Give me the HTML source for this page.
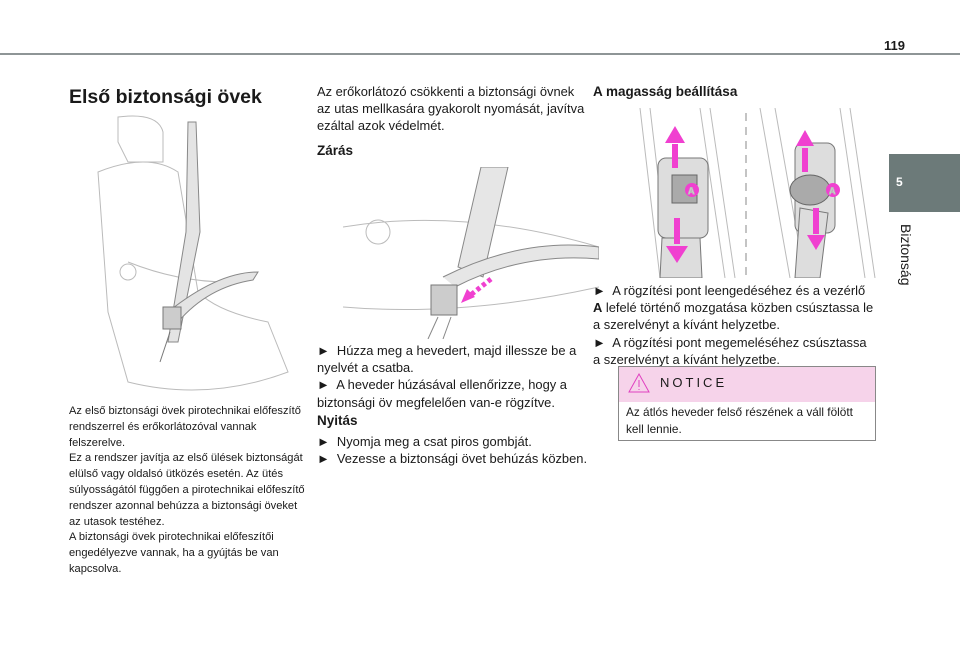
<!DOCTYPE html>
<html><head><meta charset="utf-8"><style>
body{margin:0;width:960px;height:649px;background:#fff;position:relative;overflow:hidden;font-family:"Liberation Sans",sans-serif;color:#1a1a1a}
.a{position:absolute}
p{margin:0}
.t{font-size:12.9px;line-height:17.2px;white-space:nowrap}
.l{font-size:11.1px;line-height:15.8px;white-space:nowrap}
h1{position:absolute;margin:0;font-size:19.5px;font-weight:bold}
h2{position:absolute;margin:0;font-size:13.5px;font-weight:bold}
</style></head><body>
<div class="a" style="left:0;top:53px;width:960px;height:2px;background:#8e9596"></div>
<div class="a" style="left:884px;top:38px;font-size:13px;font-weight:bold">119</div>
<div class="a" style="left:889px;top:154px;width:71px;height:58px;background:#6c7a79"></div>
<div class="a" style="left:896px;top:175px;color:#fff;font-size:12px;font-weight:bold">5</div>
<div class="a" style="left:876px;top:246px;transform:rotate(90deg);font-size:14px;width:60px;text-align:center">Biztonság</div>

<h1 style="left:69px;top:86px">Első biztonsági övek</h1>
<svg class="a" style="left:88px;top:112px" width="215" height="290" viewBox="0 0 215 290" fill="none" stroke="#bbb" stroke-width="1">
<path d="M30 5 Q70 0 75 20 L75 50 L40 50 L30 30Z"/>
<path d="M10 60 Q60 40 90 60 L110 180 Q130 200 180 210 L200 260 Q120 290 40 270 L20 200Z"/>
<path d="M40 150 Q90 170 140 170"/><circle cx="40" cy="160" r="8"/>
<path d="M100 10 L108 10 L112 120 L90 230 L80 230 L98 120Z" fill="#e4e4e4" stroke="#888"/>
<path d="M80 200 Q130 160 170 160 L165 168 Q120 175 90 210" fill="#e4e4e4" stroke="#888"/>
<rect x="75" y="195" width="18" height="22" fill="#ccc" stroke="#777"/>
<path d="M82 220 L72 250" stroke="#777"/>
</svg>
<div class="a l" style="left:69px;top:404px">Az első biztonsági övek pirotechnikai előfeszítő<br>rendszerrel és erőkorlátozóval vannak<br>felszerelve.<br>Ez a rendszer javítja az első ülések biztonságát<br>elülső vagy oldalsó ütközés esetén. Az ütés<br>súlyosságától függően a pirotechnikai előfeszítő<br>rendszer azonnal behúzza a biztonsági öveket<br>az utasok testéhez.<br>A biztonsági övek pirotechnikai előfeszítői<br>engedélyezve vannak, ha a gyújtás be van<br>kapcsolva.</div>

<div class="a t" style="left:317px;top:83px">Az erőkorlátozó csökkenti a biztonsági övnek<br>az utas mellkasára gyakorolt nyomását, javítva<br>ezáltal azok védelmét.</div>
<h2 style="left:317px;top:143px">Zárás</h2>
<svg class="a" style="left:343px;top:167px" width="256" height="172" viewBox="0 0 256 172" fill="none" stroke="#bbb">
<path d="M0 60 Q120 40 256 80"/><path d="M0 140 Q120 150 256 120"/><circle cx="35" cy="65" r="12"/>
<path d="M138 0 L165 0 L140 110 L115 100Z" fill="#e6e6e6" stroke="#888"/>
<path d="M100 110 Q180 70 256 80 L256 92 Q180 85 112 120" fill="#e6e6e6" stroke="#888"/>
<rect x="88" y="118" width="26" height="30" fill="#ccc" stroke="#777"/>
<path d="M95 150 L85 172 M108 150 L100 172" stroke="#888"/>
<path d="M148 112 L125 130" stroke="#f040d0" stroke-width="5" stroke-dasharray="4 3"/>
<path d="M118 136 L124 122 L132 130Z" fill="#f040d0" stroke="none"/>
</svg>
<div class="a t" style="left:317px;top:342px">►&nbsp; Húzza meg a hevedert, majd illessze be a<br>nyelvét a csatba.<br>►&nbsp; A heveder húzásával ellenőrizze, hogy a<br>biztonsági öv megfelelően van-e rögzítve.</div>
<h2 style="left:317px;top:413px">Nyitás</h2>
<div class="a t" style="left:317px;top:433px">►&nbsp; Nyomja meg a csat piros gombját.<br>►&nbsp; Vezesse a biztonsági övet behúzás közben.</div>

<h2 style="left:593px;top:84px">A magasság beállítása</h2>
<svg class="a" style="left:630px;top:108px" width="250" height="170" viewBox="0 0 250 170" fill="none" stroke="#bbb">
<path d="M10 0 L30 170 M20 0 L40 170 M70 0 L95 170 M80 0 L105 170 M130 0 L160 170 M145 0 L175 170 M210 0 L235 170 M220 0 L245 170"/>
<path d="M116 5 L116 170" stroke="#888" stroke-dasharray="8 6"/>
<rect x="28" y="50" width="50" height="80" rx="8" fill="#ddd" stroke="#777"/>
<rect x="42" y="67" width="25" height="28" fill="#aaa" stroke="#666"/>
<path d="M32 130 L70 130 L72 170 L30 170Z" fill="#ddd" stroke="#777"/>
<rect x="165" y="35" width="40" height="90" rx="8" fill="#ddd" stroke="#777"/>
<ellipse cx="180" cy="82" rx="20" ry="15" fill="#aaa" stroke="#666"/>
<path d="M170 100 L198 105 L190 170 L165 170Z" fill="#ddd" stroke="#777"/>
<g fill="#f040d0" stroke="none">
<path d="M35 35 L45 18 L55 35Z"/><rect x="42" y="36" width="6" height="24"/>
<rect x="44" y="110" width="6" height="26"/><path d="M36 138 L47 155 L58 138Z"/>
<path d="M166 38 L175 22 L184 38Z"/><rect x="172" y="40" width="6" height="24"/>
<rect x="183" y="100" width="6" height="26"/><path d="M177 127 L186 142 L195 127Z"/>
<circle cx="62" cy="82" r="7"/><circle cx="203" cy="82" r="7"/></g>
<text x="58" y="86" fill="#fff" font-size="9" font-weight="bold">A</text><text x="199" y="86" fill="#fff" font-size="9" font-weight="bold">A</text>
</svg>
<div class="a t" style="left:593px;top:282px">►&nbsp; A rögzítési pont leengedéséhez és a vezérlő<br><b>A</b> lefelé történő mozgatása közben csúsztassa le<br>a szerelvényt a kívánt helyzetbe.<br>►&nbsp; A rögzítési pont megemeléséhez csúsztassa<br>a szerelvényt a kívánt helyzetbe.</div>
<div class="a" style="left:618px;top:366px;width:256px;height:73px;border:1px solid #888"></div>
<div class="a" style="left:619px;top:367px;width:256px;height:35px;background:#f6d3ea"></div>
<svg class="a" style="left:627px;top:372px" width="24" height="22"><path d="M12 2 L22 20 L2 20Z" fill="none" stroke="#e040c0"/><path d="M12 8 L12 15 M12 17 L12 18" stroke="#e040c0"/></svg>
<div class="a" style="left:660px;top:375px;font-size:13px;letter-spacing:3px">NOTICE</div>
<div class="a" style="left:626px;top:404px;font-size:11.8px;line-height:17px;white-space:nowrap">Az átlós heveder felső részének a váll fölött<br>kell lennie.</div>
</body></html>
